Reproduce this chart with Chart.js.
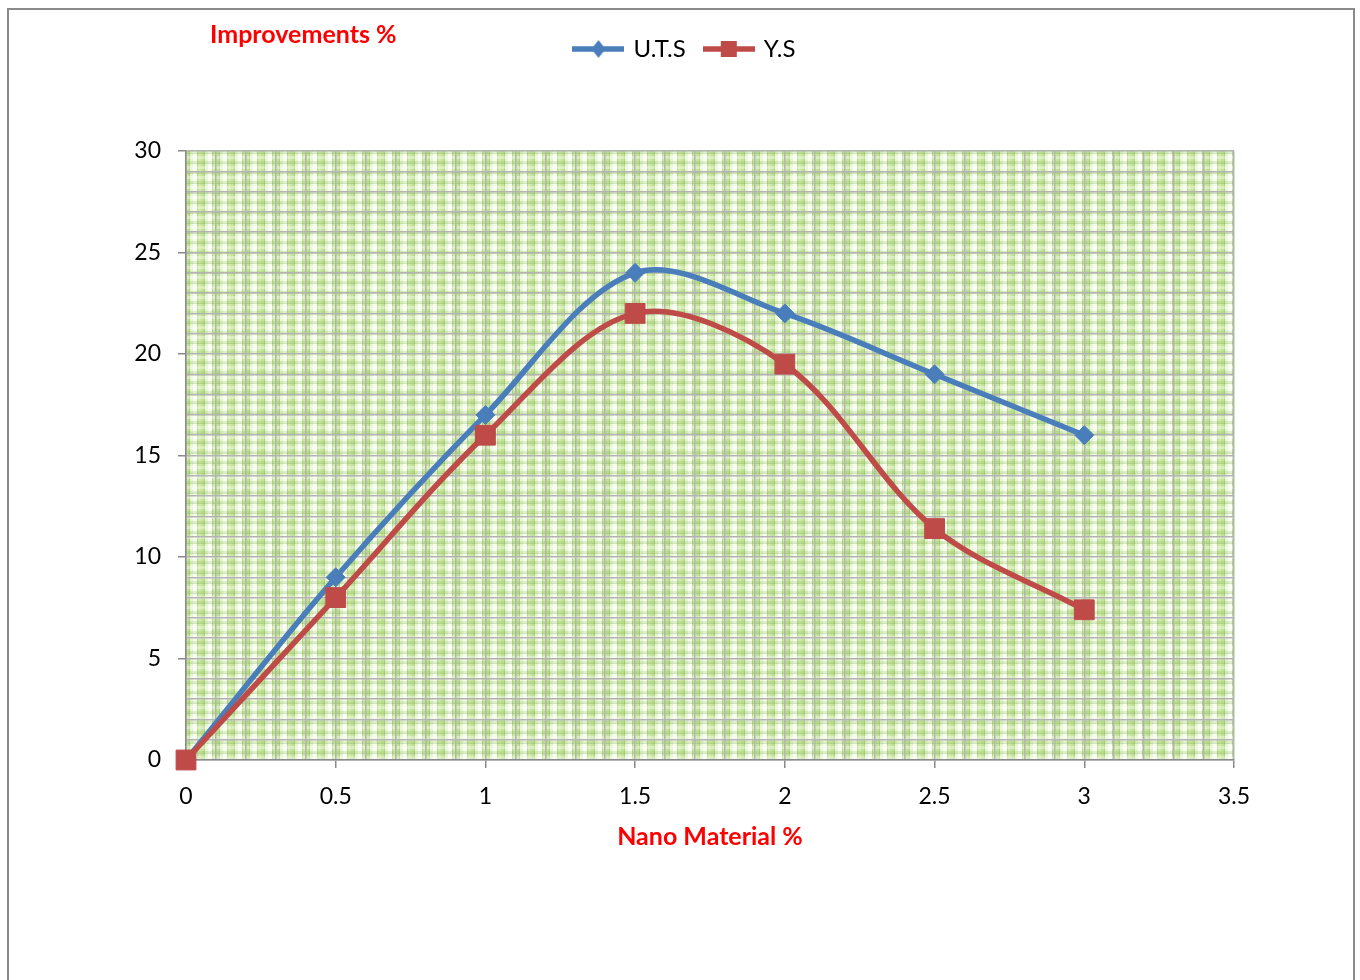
<!DOCTYPE html>
<html>
<head>
<meta charset="utf-8">
<script src="https://cdn.jsdelivr.net/npm/chart.js@4/dist/chart.umd.min.js"></script>
<style>
  html, body { margin: 0; padding: 0; background: #ffffff; }
  #wrap { width: 1360px; height: 980px; position: relative; }
</style>
</head>
<body>
<div id="wrap"><canvas id="chart" width="1360" height="980"></canvas></div>
<script>
// Nano material content (%) and the resulting strength improvements (%)
const nanoPct = [0, 0.5, 1, 1.5, 2, 2.5, 3];
const utsGain = [0, 9, 17, 24, 22, 19, 16];
const ysGain = [0, 8, 16, 22, 19.5, 11.4, 7.4];

// Labelled ticks; the minor grid runs every 0.1 (x) and every 1 (y)
const xTickLabels = [0, 0.5, 1, 1.5, 2, 2.5, 3, 3.5];
const yTickLabels = [0, 5, 10, 15, 20, 25, 30];
const seriesNames = ['U.T.S', 'Y.S'];

const BLUE = '#4A7EBB';
const RED = '#BE4B48';
const GRID = '#b3b3b3';
const AXIS = '#8a8a8a';
const FONT = 'Lato, "Open Sans", "DejaVu Sans", sans-serif';

const isLabelled = (list, v) => list.some(t => Math.abs(t - v) < 1e-6);

// Plaid tile used as the plot-area fill
function makePlaid() {
  const c = document.createElement('canvas');
  c.width = 15; c.height = 10;
  const g = c.getContext('2d');
  g.fillStyle = '#dcf0bd'; g.fillRect(0, 0, 15, 10);
  const cols = [[0, 3, '#c4e39a'], [3, 1, '#aed184'], [4, 3, '#e6f6cf'], [7, 4, '#f8fef1'], [11, 1, '#b6d78c'], [12, 3, '#d0eaa8']];
  cols.forEach(([x, w, col]) => { g.fillStyle = col; g.fillRect(x, 0, w, 10); });
  g.fillStyle = 'rgba(130,180,80,0.22)'; g.fillRect(0, 0, 15, 2);
  g.fillStyle = 'rgba(100,150,55,0.25)'; g.fillRect(0, 2, 15, 1);
  g.fillStyle = 'rgba(255,255,255,0.35)'; g.fillRect(0, 5, 15, 3);
  return c;
}

// Legend swatch: short line segment with the series marker on it
function makeSwatch(color, shape) {
  const c = document.createElement('canvas');
  c.width = 52; c.height = 22;
  const g = c.getContext('2d');
  g.strokeStyle = color; g.lineWidth = 5.5;
  g.beginPath(); g.moveTo(0, 11); g.lineTo(52, 11); g.stroke();
  g.fillStyle = color;
  g.beginPath();
  if (shape === 'diamond') {
    g.moveTo(26, 2); g.lineTo(33, 11); g.lineTo(26, 20); g.lineTo(19, 11); g.closePath();
  } else {
    g.rect(18, 3, 16, 16);
  }
  g.fill();
  return c;
}

const frameAndFill = {
  id: 'frameAndFill',
  beforeDraw(chart) {
    const { ctx, chartArea: a } = chart;
    ctx.save();
    ctx.strokeStyle = AXIS; ctx.lineWidth = 2;
    ctx.beginPath();
    ctx.moveTo(8, 990); ctx.lineTo(8, 9); ctx.lineTo(1354, 9); ctx.lineTo(1354, 990);
    ctx.stroke();
    const pat = ctx.createPattern(makePlaid(), 'repeat');
    ctx.translate(a.left, a.top);
    ctx.fillStyle = pat;
    ctx.fillRect(0, 0, a.right - a.left, a.bottom - a.top);
    ctx.restore();
  },
  afterDraw(chart) {
    const { ctx } = chart;
    ctx.save();
    ctx.fillStyle = '#ff0000';
    ctx.font = 'bold 25px ' + FONT;
    ctx.textAlign = 'left';
    ctx.textBaseline = 'middle';
    ctx.fillText('Improvements %', 210, 35);
    ctx.restore();
  }
};

const toPoints = ys => nanoPct.map((x, i) => ({ x, y: ys[i] }));

new Chart(document.getElementById('chart'), {
  type: 'line',
  data: {
    datasets: [
      {
        label: seriesNames[0],
        data: toPoints(utsGain),
        borderColor: BLUE, backgroundColor: BLUE,
        borderWidth: 5.5, tension: 0.33,
        pointStyle: 'rectRot', pointRadius: 9.5, pointHoverRadius: 9.5,
        pointBackgroundColor: BLUE, pointBorderColor: BLUE, pointBorderWidth: 1,
        order: 1, clip: false
      },
      {
        label: seriesNames[1],
        data: toPoints(ysGain),
        borderColor: RED, backgroundColor: RED,
        borderWidth: 5.5, tension: 0.33,
        pointStyle: 'rect', pointRadius: 14, pointHoverRadius: 14,
        pointBackgroundColor: RED, pointBorderColor: RED, pointBorderWidth: 1,
        order: 0, clip: false
      }
    ]
  },
  options: {
    responsive: false,
    animation: false,
    events: [],
    layout: { padding: { top: 17, left: 11, right: 0, bottom: 0 } },
    plugins: {
      tooltip: { enabled: false },
      legend: {
        position: 'top',
        weight: 3000,
        labels: {
          usePointStyle: true,
          pointStyleWidth: 46,
          padding: 20,
          color: '#000000',
          font: { family: FONT, size: 24 },
          generateLabels(chart) {
            return chart.data.datasets.map((ds, i) => ({
              text: ds.label,
              pointStyle: makeSwatch(ds.borderColor, i === 0 ? 'diamond' : 'square'),
              fillStyle: 'transparent', strokeStyle: 'transparent', lineWidth: 0,
              fontColor: '#000000', hidden: false, datasetIndex: i
            }));
          }
        }
      },
      subtitle: {
        display: true, text: '',
        font: { size: 1 },
        padding: { top: 78.8, bottom: 0 }
      }
    },
    scales: {
      x: {
        type: 'linear',
        min: 0, max: 3.5,
        afterFit(s) { s.height = 220; },
        ticks: {
          stepSize: 0.1, autoSkip: false, maxRotation: 0, padding: 15,
          color: '#000000', font: { family: FONT, size: 23 },
          callback: v => isLabelled(xTickLabels, v) ? String(Math.round(v * 10) / 10) : ''
        },
        grid: {
          color: GRID, lineWidth: 1.5, tickLength: 8,
          tickColor: c => (c.tick && isLabelled(xTickLabels, c.tick.value)) ? AXIS : 'rgba(0,0,0,0)'
        },
        border: { display: true, color: AXIS, width: 1.5 },
        title: {
          display: true, text: 'Nano Material %', color: '#ff0000',
          font: { family: FONT, size: 25, weight: 'bold' },
          padding: { top: 0, bottom: 128 }
        }
      },
      y: {
        type: 'linear',
        min: 0, max: 30,
        afterFit(s) { s.width = 175; },
        ticks: {
          stepSize: 1, autoSkip: false, padding: 17,
          color: '#000000', font: { family: FONT, size: 23 },
          callback: v => isLabelled(yTickLabels, v) ? String(v) : ''
        },
        grid: {
          color: GRID, lineWidth: 1.5, tickLength: 8,
          tickColor: c => (c.tick && isLabelled(yTickLabels, c.tick.value)) ? AXIS : 'rgba(0,0,0,0)'
        },
        border: { display: true, color: AXIS, width: 1.5 }
      },
      yRight: {
        type: 'linear', position: 'right',
        afterFit(s) { s.width = 126; },
        ticks: { display: false },
        grid: { display: false, drawTicks: false },
        border: { display: false }
      }
    }
  },
  plugins: [frameAndFill]
});
</script>
</body>
</html>
